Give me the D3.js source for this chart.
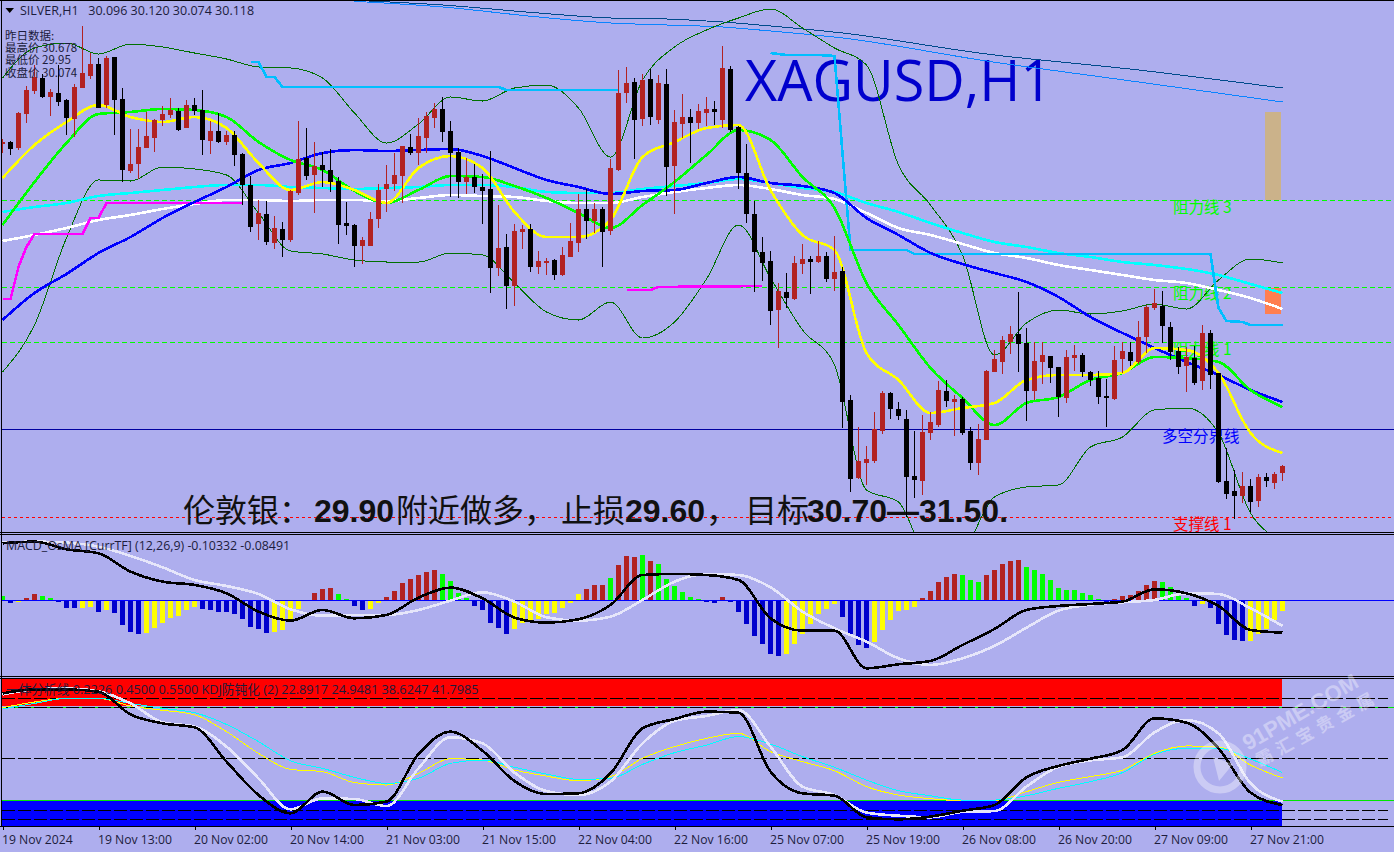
<!DOCTYPE html>
<html><head><meta charset="utf-8">
<style>html,body{margin:0;padding:0;background:#aeaeee;overflow:hidden}svg{display:block}</style>
<script src="https://cdn.jsdelivr.net/npm/d3@7/dist/d3.min.js"></script>
</head><body><svg id="c" width="1394" height="852"></svg>
<script>
const opens=[31.084,31.091,31.071,31.174,31.242,31.282,31.225,31.236,31.216,31.160,31.252,31.288,31.324,31.200,31.344,31.219,31.002,31.024,31.071,31.102,31.156,31.171,31.183,31.132,31.200,31.186,31.093,31.123,31.090,31.111,31.054,30.961,30.844,30.874,30.788,30.829,30.796,30.936,31.042,30.991,31.021,31.006,30.972,30.847,30.841,30.778,30.778,30.859,30.949,30.964,30.988,31.075,31.057,31.102,31.162,31.189,31.123,31.060,30.970,30.985,30.955,30.949,30.712,30.775,30.658,30.820,30.829,30.715,30.727,30.736,30.691,30.745,30.787,30.889,30.853,30.889,30.823,31.006,31.237,31.270,31.159,31.279,31.156,31.264,31.018,31.144,31.165,31.147,31.177,31.189,31.156,31.309,31.135,30.997,30.874,30.760,30.733,30.586,30.640,30.619,30.724,30.739,30.730,30.748,30.679,30.703,30.316,30.082,30.127,30.133,30.223,30.337,30.289,30.259,30.088,30.073,30.217,30.241,30.343,30.310,30.319,30.223,30.127,30.196,30.400,30.430,30.490,30.514,30.487,30.343,30.430,30.448,30.415,30.322,30.442,30.451,30.400,30.382,30.328,30.319,30.439,30.460,30.430,30.505,30.592,30.598,30.535,30.463,30.418,30.442,30.373,30.517,30.397,30.073,30.043,30.028,30.058,30.013,30.085,30.067,30.096];
const closes=[31.091,31.070,31.177,31.246,31.284,31.226,31.240,31.210,31.162,31.254,31.298,31.324,31.192,31.341,31.216,31.006,31.024,31.074,31.108,31.156,31.174,31.186,31.126,31.200,31.183,31.096,31.123,31.090,31.111,31.051,30.961,30.836,30.876,30.790,30.832,30.796,30.942,31.038,30.988,31.018,31.006,30.970,30.841,30.838,30.778,30.796,30.859,30.946,30.964,30.991,31.078,31.057,31.108,31.168,31.189,31.120,31.057,30.970,30.985,30.955,30.943,30.712,30.772,30.658,30.823,30.829,30.715,30.733,30.733,30.691,30.751,30.793,30.889,30.853,30.889,30.820,31.012,31.237,31.267,31.156,31.276,31.165,31.267,31.016,31.150,31.165,31.147,31.183,31.189,31.180,31.312,31.126,30.997,30.874,30.760,30.727,30.583,30.642,30.622,30.727,30.739,30.730,30.748,30.679,30.700,30.310,30.079,30.133,30.139,30.228,30.337,30.289,30.268,30.085,30.076,30.220,30.250,30.346,30.313,30.319,30.217,30.127,30.199,30.403,30.439,30.496,30.514,30.484,30.343,30.433,30.451,30.412,30.325,30.445,30.451,30.400,30.376,30.325,30.323,30.436,30.463,30.433,30.505,30.595,30.607,30.538,30.460,30.415,30.445,30.367,30.517,30.391,30.070,30.034,30.028,30.058,30.010,30.085,30.073,30.094,30.118];
const highs=[31.098,31.094,31.179,31.258,31.321,31.294,31.248,31.321,31.219,31.263,31.438,31.356,31.341,31.348,31.344,31.251,31.128,31.128,31.181,31.158,31.199,31.221,31.191,31.216,31.221,31.246,31.154,31.176,31.124,31.123,31.056,30.988,30.916,30.913,30.868,30.851,30.946,31.153,31.131,31.089,31.061,31.068,30.984,30.911,30.844,30.804,30.881,30.963,31.021,31.058,31.078,31.113,31.163,31.181,31.208,31.224,31.153,31.071,31.041,31.024,30.994,31.063,30.901,30.814,30.844,30.841,30.844,30.764,30.742,30.739,30.774,30.848,30.934,30.948,30.908,30.894,31.038,31.306,31.314,31.281,31.294,31.308,31.291,31.309,31.186,31.234,31.189,31.204,31.226,31.213,31.378,31.318,31.138,31.084,30.913,30.806,30.763,30.666,30.698,30.748,30.784,30.748,30.794,30.760,30.808,30.714,30.331,30.234,30.178,30.279,30.343,30.339,30.309,30.285,30.223,30.271,30.279,30.373,30.376,30.331,30.326,30.236,30.244,30.406,30.466,30.508,30.538,30.641,30.531,30.490,30.490,30.448,30.416,30.466,30.481,30.458,30.403,30.403,30.379,30.478,30.490,30.490,30.553,30.601,30.648,30.643,30.550,30.476,30.476,30.478,30.541,30.526,30.398,30.171,30.106,30.099,30.078,30.094,30.096,30.100,30.120];
const lows=[31.058,31.051,31.066,31.148,31.234,31.221,31.168,31.198,31.111,31.106,31.252,31.279,31.192,31.191,31.111,30.971,30.996,30.978,31.071,31.061,31.139,31.161,31.123,31.132,31.171,31.051,31.054,31.086,31.081,31.018,30.901,30.821,30.796,30.781,30.768,30.746,30.791,30.931,30.976,30.878,30.956,30.941,30.784,30.811,30.716,30.724,30.778,30.833,30.881,30.944,30.906,31.051,31.021,31.058,31.131,31.091,30.926,30.921,30.934,30.936,30.844,30.638,30.688,30.590,30.598,30.769,30.701,30.694,30.691,30.676,30.688,30.745,30.760,30.799,30.818,30.716,30.811,31.003,31.208,31.039,31.138,31.141,31.144,30.928,30.874,31.101,31.026,31.129,31.138,31.141,31.132,31.121,30.949,30.846,30.641,30.674,30.541,30.472,30.592,30.616,30.694,30.634,30.726,30.671,30.644,30.233,30.041,30.080,30.061,30.126,30.214,30.259,30.256,29.966,30.023,30.031,30.196,30.236,30.294,30.208,30.211,30.106,30.091,30.196,30.400,30.394,30.454,30.400,30.253,30.316,30.364,30.366,30.266,30.308,30.404,30.386,30.358,30.304,30.236,30.316,30.396,30.418,30.424,30.456,30.586,30.488,30.436,30.394,30.340,30.360,30.346,30.349,30.068,30.020,29.958,30.006,29.980,29.996,30.056,30.049,30.074];

// indicator samples, one value per lineBars entry
const lineBars=d3.range(0,161,4);
const emaFast=[30.982,31.081,31.150,31.201,31.165,31.150,31.165,31.132,31.027,30.946,30.970,30.946,30.907,31.012,31.048,31.012,30.880,30.805,30.805,30.856,31.045,31.090,31.132,31.141,30.946,30.811,30.766,30.457,30.376,30.277,30.292,30.307,30.376,30.391,30.391,30.397,30.472,30.466,30.397,30.217,30.157];
const emaMid=[30.841,30.970,31.087,31.174,31.180,31.189,31.186,31.165,31.090,31.036,31.006,30.943,30.907,30.946,30.988,30.985,30.958,30.922,30.877,30.832,30.901,30.970,31.051,31.126,31.096,30.985,30.892,30.667,30.541,30.412,30.322,30.241,30.307,30.325,30.376,30.397,30.445,30.442,30.430,30.346,30.295];
const emaSlow=[30.556,30.637,30.694,30.757,30.805,30.862,30.910,30.955,31.006,31.027,31.057,31.066,31.063,31.066,31.069,31.048,31.012,30.976,30.955,30.934,30.943,30.946,30.967,30.985,30.967,30.958,30.937,30.862,30.811,30.757,30.724,30.697,30.670,30.625,30.565,30.517,30.472,30.430,30.391,30.346,30.310];
const maWhite=[30.793,30.811,30.832,30.856,30.871,30.889,30.904,30.916,30.916,30.913,30.916,30.916,30.913,30.922,30.931,30.928,30.925,30.913,30.907,30.907,30.925,30.940,30.952,30.961,30.949,30.931,30.919,30.877,30.832,30.811,30.784,30.757,30.742,30.721,30.706,30.691,30.676,30.667,30.646,30.622,30.589];
const maCyan=[30.880,30.895,30.907,30.928,30.937,30.946,30.955,30.961,30.961,30.955,30.952,30.949,30.952,30.955,30.961,30.961,30.955,30.940,30.937,30.937,30.949,30.958,30.967,30.979,30.967,30.952,30.940,30.907,30.880,30.847,30.817,30.790,30.775,30.757,30.745,30.730,30.721,30.709,30.691,30.664,30.637];
const bbUpper=[31.282,31.372,31.387,31.354,31.384,31.375,31.357,31.339,31.315,31.312,31.282,31.177,31.087,31.144,31.225,31.213,31.252,31.261,31.192,31.045,31.276,31.375,31.426,31.462,31.489,31.432,31.372,31.321,31.021,30.901,30.751,30.451,30.547,30.586,30.574,30.583,30.604,30.589,30.676,30.739,30.727];
const bbLower=[30.400,30.541,30.802,30.976,30.973,31.015,31.009,30.991,30.877,30.763,30.754,30.736,30.730,30.730,30.757,30.751,30.667,30.580,30.556,30.610,30.502,30.550,30.679,30.841,30.682,30.526,30.421,30.046,30.010,29.836,29.866,30.025,30.055,30.061,30.175,30.205,30.286,30.292,30.217,29.977,29.896];

const longBars=[44,55,67,76,83,90,96,105,123,142,160];
const longDark=[31.515,31.501,31.477,31.462,31.459,31.450,31.438,31.417,31.354,31.306,31.252];
const longLight=[31.512,31.495,31.465,31.447,31.441,31.435,31.423,31.402,31.333,31.270,31.210];

const skyBarsA=[31,32,33,34,35,62,63,77];
const skyValsA=[31.330,31.330,31.285,31.285,31.255,31.255,31.246,31.246];
const skyBarsB=[96,98,102,104,106,113,114,151,152,153,155,156,160];
const skyValsB=[31.357,31.351,31.351,31.348,30.766,30.766,30.754,30.754,30.592,30.553,30.550,30.541,30.541];
const magBarsA=[0,1,2,3,4,10,11,12,13,30];
const magValsA=[30.619,30.619,30.715,30.775,30.814,30.814,30.862,30.862,30.907,30.907];
const magBarsB=[78,81,82,95];
const magValsB=[30.646,30.646,30.655,30.658];

const resist3=30.916, resist2=30.655, resist1=30.490, pivotLine=30.229, support1=29.965;
const zoneTan=[31.180,30.916], zoneCoral=[30.652,30.574];

// MACD / OsMA
const osma=[.013,-.007,-.004,.007,.019,.013,.007,-.005,-.023,-.023,-.023,-.020,-.035,-.029,-.038,-.074,-.095,-.101,-.098,-.083,-.068,-.053,-.047,-.029,-.021,-.026,-.029,-.035,-.035,-.041,-.056,-.080,-.086,-.098,-.095,-.089,-.062,-.026,0,.022,.034,.037,.019,.003,-.017,-.029,-.026,-.008,.010,.028,.052,.064,.076,.085,.091,.079,.058,.023,.007,-.017,-.029,-.068,-.083,-.101,-.086,-.068,-.062,-.056,-.041,-.038,-.023,-.008,.019,.034,.046,.046,.067,.106,.133,.130,.136,.118,.109,.064,.043,.025,.010,.003,-.005,-.008,.010,-.005,-.035,-.071,-.107,-.131,-.161,-.167,-.161,-.131,-.101,-.071,-.041,-.026,-.011,-.050,-.104,-.134,-.143,-.125,-.089,-.059,-.032,-.029,-.020,.007,.028,.055,.070,.079,.076,.061,.055,.076,.091,.109,.118,.121,.100,.091,.079,.061,.037,.031,.031,.022,.016,.003,-.008,.003,.013,.016,.028,.046,.058,.055,.040,.013,.007,-.017,-.011,-.023,-.071,-.104,-.119,-.122,-.122,-.101,-.086,-.059,-.032];
const osmaKindSegments=[["g",1],["b",1],["y",1],["r",2],["g",2],["b",3],["y",2],["b",1],["y",1],["b",4],["y",7],["b",9],["y",4],[".",1],["r",3],["g",2],["b",2],["y",2],["r",7],["g",4],["b",5],["y",9],["r",3],["g",1],["r",3],["g",1],["r",1],["g",6],["b",2],["r",1],["b",7],["y",7],["b",4],["y",6],["r",5],["g",3],["r",5],["g",10],["b",1],["r",6],["g",4],["b",1],["y",1],["b",5],["y",5]];
const macdMain=[.171,.176,.153,.141,.086,.056,.046,.021,-.034,-.061,-.029,-.054,-.044,.008,.038,.006,-.052,-.067,-.057,-.014,.076,.079,.076,.061,-.054,-.091,-.091,-.204,-.192,-.182,-.134,-.086,-.029,-.017,-.011,-.004,.033,.021,-.017,-.089,-.097];
const macdSignal=[.173,.176,.173,.161,.133,.099,.061,.043,.019,-.027,-.046,-.044,-.044,-.029,-.001,.024,-.004,-.051,-.061,-.049,.001,.056,.079,.076,.039,-.034,-.084,-.124,-.174,-.194,-.174,-.137,-.082,-.031,-.013,-.006,.001,.021,.019,-.024,-.077];

// KDJ / stochastic
const stochFastK=[87.7,90.0,90.0,88.7,75.5,70.3,68.0,48.1,28.7,18.1,30.7,22.9,24.9,52.5,65.5,54.4,36.8,29.3,29.7,41.3,67.4,72.8,77.1,76.5,42.3,29.7,28.3,15.8,14.6,16.2,19.6,22.9,39.0,45.6,49.8,54.8,73.2,70.7,55.8,30.1,22.9];
const stochFastD=[87.1,90.0,90.6,88.9,81.9,70.9,68.4,56.8,38.4,20.4,26.8,26.4,22.3,44.2,62.2,58.7,41.7,31.0,28.7,36.5,58.7,71.7,74.6,78.0,56.8,33.6,28.7,18.5,16.7,15.8,18.9,19.4,33.6,45.2,48.8,50.6,65.1,72.2,64.5,35.5,24.9];
const stochSlowK=[79.4,82.7,84.8,84.8,80.4,77.9,75.3,65.5,52.9,43.6,42.3,35.9,34.5,41.3,49.8,49.0,43.2,39.7,37.0,39.4,50.0,56.8,61.6,64.5,53.9,48.1,42.8,33.6,28.7,26.6,25.4,25.4,30.7,36.1,39.4,43.2,52.9,57.2,56.8,46.1,38.6];
const stochSlowD=[78.6,81.9,84.8,84.8,81.9,79.0,76.5,69.7,59.7,48.6,44.2,39.0,35.5,38.4,47.1,49.0,44.8,40.9,37.8,38.4,46.5,53.3,57.7,62.6,58.3,51.0,44.8,37.4,31.2,28.3,25.8,25.8,28.3,32.6,36.5,41.7,52.3,55.8,55.8,49.6,41.8];
const stochDashed=[85,79.6,50,19.8,14.6];
const stochZones=[80,25.6];

const tickBars=d3.range(0,161,12);
const tickLabels=["19 Nov 2024","19 Nov 13:00","20 Nov 02:00","20 Nov 14:00","21 Nov 03:00","21 Nov 15:00","22 Nov 04:00","22 Nov 16:00","25 Nov 07:00","25 Nov 19:00","26 Nov 08:00","26 Nov 20:00","27 Nov 09:00","27 Nov 21:00"];

const BG="#aeaeee", W=1394, THICK=2.6;
const svg=d3.select("#c");
const UI="'Open Sans',sans-serif", CJK="'Noto Sans CJK SC',sans-serif";
const x=d3.scaleLinear().domain([0,160]).range([2.5,1282.5]);
const yP=d3.scaleLinear().domain([31.516,29.920]).range([0,532]);
const yM=d3.scaleLinear().domain([.1959,-.2271]).range([535,676]);
const yS=d3.scaleLinear().domain([0,100]).range([844.5,672.2]);
const defs=svg.append("defs");
[["cm",1,532],["cc",535,141],["cs",678.5,148]].forEach(([id,y,h])=>defs.append("clipPath").attr("id",id).append("rect").attr("x",2).attr("y",y).attr("width",W).attr("height",h));
svg.append("rect").attr("width",W).attr("height",852).attr("fill",BG);

const gM=svg.append("g").attr("clip-path","url(#cm)").attr("shape-rendering","crispEdges");
const gC=svg.append("g").attr("clip-path","url(#cc)").attr("shape-rendering","crispEdges");
const gS=svg.append("g").attr("clip-path","url(#cs)").attr("shape-rendering","crispEdges");

function path(g,bars,vals,scale,color,w,smooth=true){
  const line=d3.line().x(d=>x(d[0])).y(d=>scale(d[1]));
  if(smooth) line.curve(d3.curveMonotoneX);
  g.append("path").datum(bars.map((b,i)=>[b,vals[i]])).attr("fill","none").attr("stroke",color).attr("stroke-width",w).attr("stroke-linejoin","round").attr("d",line);
}
function hline(g,y,color,dash,x1=2,x2=W,w=1){
  const l=g.append("line").attr("x1",x1).attr("x2",x2).attr("y1",Math.round(y)+.5).attr("y2",Math.round(y)+.5).attr("stroke",color).attr("stroke-width",w);
  if(dash) l.attr("stroke-dasharray",dash);
}
gM.append("text").attr("x",745).attr("y",101).attr("font-family",UI).attr("font-size",55.8).attr("fill","#0000cd").attr("shape-rendering","auto").text("XAGUSD,H1");

[[zoneTan,"#cbb28a"],[zoneCoral,"#ff7f50"]].forEach(([z,c])=>gM.append("rect").attr("x",x(158)-2).attr("width",16).attr("y",yP(z[0])).attr("height",yP(z[1])-yP(z[0])).attr("fill",c));
hline(gM,yP(resist3),"#00ff00","5,3");
hline(gM,yP(resist2),"#00ff00","5,3");
hline(gM,yP(resist1),"#00ff00","5,3");
hline(gM,yP(pivotLine),"#0000a0",null);
hline(gM,yP(support1),"#ff0000","3,3");

[["阻力线 3",1173,213,"#00ff00"],["阻力线 2",1173,299,"#00ff00"],["阻力线 1",1173,355,"#00ff00"],["多空分界线",1162,442,"#0000ff"],["支撑线 1",1173,530,"#ff0000"]].forEach(d=>{
  gM.append("text").attr("x",d[1]).attr("y",d[2]).attr("font-family",CJK).attr("font-size",15.5).attr("fill",d[3]).text(d[0]);
});

path(gM,longBars,longDark,yP,"#004a8c",1);
path(gM,longBars,longLight,yP,"#0a84ff",1);
path(gM,lineBars,bbUpper,yP,"#007000",1);
path(gM,lineBars,bbLower,yP,"#007000",1);
path(gM,lineBars,maWhite,yP,"#ffffff",THICK);
path(gM,lineBars,maCyan,yP,"#00ffff",THICK);
path(gM,magBarsA,magValsA,yP,"#ff00ff",THICK,false);
path(gM,magBarsB,magValsB,yP,"#ff00ff",THICK,false);
path(gM,skyBarsA,skyValsA,yP,"#00bfff",THICK,false);
path(gM,skyBarsB,skyValsB,yP,"#00bfff",THICK,false);
path(gM,lineBars,emaSlow,yP,"#0000ff",THICK);
path(gM,lineBars,emaMid,yP,"#00ff00",THICK);
path(gM,lineBars,emaFast,yP,"#ffff00",THICK);

const ann=gM.append("text").attr("y",522).attr("fill","#111").attr("font-size",32).attr("shape-rendering","auto");
[["伦敦银：",0,183],["29.90",1,314],["附近做多，",0,396],["止损",0,561],["29.60",1,625],["，",0,706],["目标",0,745],["30.70—31.50.",1,807]].forEach(([t,b,px])=>{
  ann.append("tspan").attr("x",px).attr("font-family",b?"'Liberation Sans',sans-serif":CJK).attr("font-weight",b?"bold":"normal").text(t);
});

const bars=d3.range(opens.length);
const col=i=>closes[i]>=opens[i]?"#b22222":"#000000";
gM.selectAll("line.w").data(bars).join("line").attr("class","w")
  .attr("x1",i=>x(i)).attr("x2",i=>x(i)).attr("y1",i=>yP(highs[i])).attr("y2",i=>yP(lows[i])).attr("stroke",col).attr("stroke-width",1);
gM.selectAll("rect.b").data(bars).join("rect").attr("class","b")
  .attr("x",i=>x(i)-2.5).attr("width",5)
  .attr("y",i=>yP(Math.max(opens[i],closes[i])))
  .attr("height",i=>Math.max(2,Math.abs(yP(opens[i])-yP(closes[i]))))
  .attr("fill",col);

const kinds=osmaKindSegments.flatMap(([k,n])=>Array(n).fill(k));
const kindCol={r:"#b22222",g:"#00ff00",b:"#0000cd",y:"#ffff00",".":"none"};
gC.selectAll("rect").data(bars).join("rect")
  .attr("x",i=>x(i)-2.5).attr("width",5)
  .attr("y",i=>Math.min(yM(0),yM(osma[i])))
  .attr("height",i=>Math.abs(yM(osma[i])-yM(0)))
  .attr("fill",i=>kindCol[kinds[i]]||"none");
hline(gC,yM(0),"#0000ff",null);
svg.append("text").attr("x",6).attr("y",550).attr("font-family",UI).attr("font-size",12.4).attr("fill","#1c1c3c").text("MACD_OsMA [CurrTF] (12,26,9) -0.10332 -0.08491");
path(gC,lineBars,macdSignal,yM,"#e6e6fa",THICK);
path(gC,lineBars,macdMain,yM,"#000000",THICK);

gS.append("rect").attr("x",2).attr("width",x(160)-3).attr("y",678.5).attr("height",yS(80.3)-678.5).attr("fill","#ff0000");
gS.append("rect").attr("x",2).attr("width",x(160)-3).attr("y",yS(25.4)).attr("height",826-yS(25.4)).attr("fill","#0000ff");
stochZones.forEach(v=>hline(gS,yS(v),"#00e800",null));
stochDashed.forEach(v=>hline(gS,yS(v),"#000000","13,3",2,1388));
const leg=svg.append("text").attr("x",6).attr("y",694).attr("font-size",12.7).attr("fill","#1c1c3c").attr("font-family",UI);
leg.append("tspan").attr("font-family",CJK).text("一体分析线");
leg.append("tspan").text(" 0.2226 0.4500 0.5500  KDJ");
leg.append("tspan").attr("font-family",CJK).text("防钝化");
leg.append("tspan").text(" (2) 22.8917 24.9481 38.6247 41.7985");
path(gS,lineBars,stochSlowK,yS,"#ffff00",1);
path(gS,lineBars,stochSlowD,yS,"#00ffff",1);
path(gS,lineBars,stochFastD,yS,"#e6e6fa",THICK);
path(gS,lineBars,stochFastK,yS,"#000000",THICK);

const fr=svg.append("g").attr("shape-rendering","crispEdges").attr("stroke","#000");
[0,532.5,534.5,676.5,678.5,826.5].forEach(y=>fr.append("line").attr("x1",0).attr("x2",W).attr("y1",y).attr("y2",y));
fr.append("line").attr("x1",1.5).attr("x2",1.5).attr("y1",0).attr("y2",827);

const axis=d3.axisBottom(x).tickValues(tickBars).tickSize(3).tickPadding(5).tickFormat((d,i)=>tickLabels[i]);
const ax=svg.append("g").attr("transform","translate(0,827)").call(axis);
ax.select(".domain").remove();
ax.selectAll("line").attr("stroke","#000").attr("shape-rendering","crispEdges");
ax.selectAll("text").attr("font-family",UI).attr("font-size",12.2).attr("fill","#1c1c3c").attr("text-anchor","start").attr("dx",-1);

svg.append("path").attr("d","M5.5 8 L14 8 L9.7 13 Z").attr("fill","#000");
svg.append("text").attr("x",20).attr("y",15).attr("font-family",UI).attr("font-size",12.5).attr("fill","#1c1c3c").attr("xml:space","preserve").text("SILVER,H1   30.096 30.120 30.074 30.118");
[["昨日数据:",0],["最高价 30.678",1],["最低价 29.95",2],["收盘价 30.074",3]].forEach(([t,i])=>{
  svg.append("text").attr("x",5).attr("y",40+i*12.2).attr("font-family",CJK).attr("font-size",11.5).attr("fill","#1c1c3c").text(t);
});

const wm=svg.append("g").attr("opacity",.36).attr("fill","#fff");
wm.append("circle").attr("cx",1220).attr("cy",767).attr("r",23).attr("fill","none").attr("stroke","#fff").attr("stroke-width",7);
wm.append("path").attr("d","M1213 757 L1233 764 L1219 781 Z");
wm.append("text").attr("transform","translate(1248,751) rotate(-30)").attr("font-family","'Liberation Sans',sans-serif").attr("font-size",22).attr("font-weight","bold").text("91PME.COM");
wm.append("text").attr("transform","translate(1260,767) rotate(-29)").attr("font-family",CJK).attr("font-size",17).attr("font-weight","bold").attr("letter-spacing",6).text("霸汇宝贵金属");
</script></body></html>
